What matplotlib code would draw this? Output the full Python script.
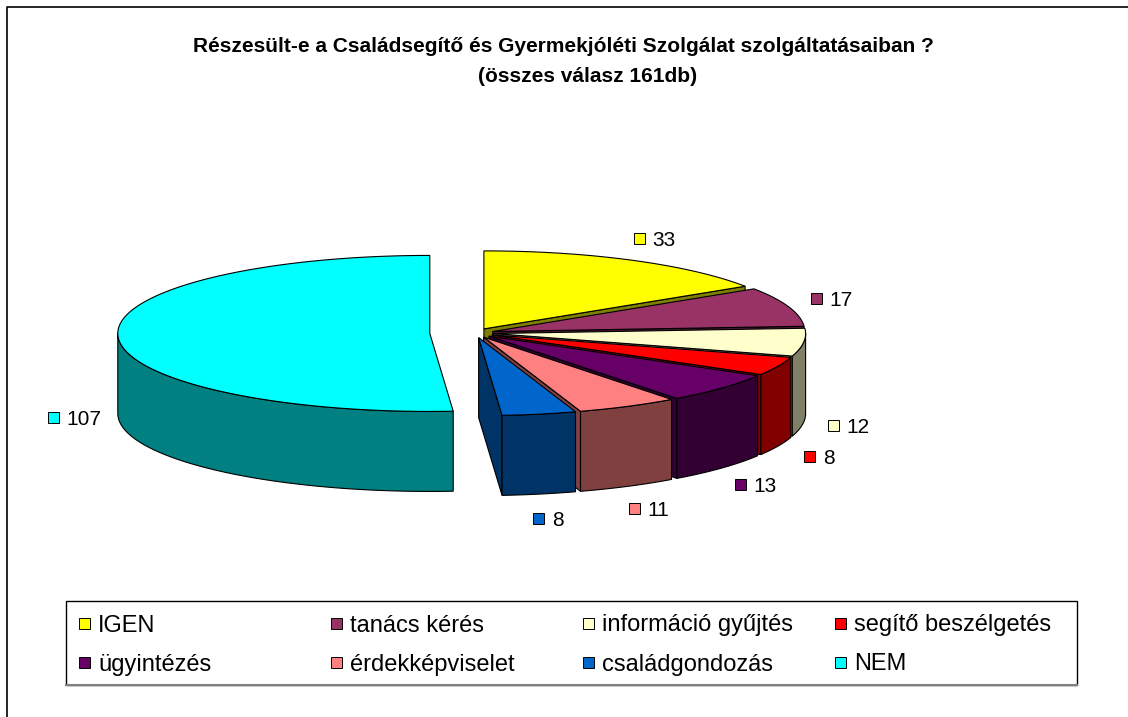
import numpy as np
import matplotlib
matplotlib.use("Agg")
import matplotlib.pyplot as plt
from matplotlib.colors import to_rgb
from matplotlib.patches import Polygon, Rectangle

plt.rcParams["font.family"] = ["Liberation Sans", "DejaVu Sans"]

# data
labels = ["IGEN", "tanács kérés", "információ gyűjtés", "segítő beszélgetés",
          "ügyintézés", "érdekképviselet", "családgondozás", "NEM"]
values = [33, 17, 12, 8, 13, 11, 8, 107]
title_lines = ["Részesült-e a Családsegítő és Gyermekjóléti Szolgálat szolgáltatásaiban ?",
               "(összes válasz 161db)"]

# style
colors = ["#FFFF00", "#993366", "#FFFFCC", "#FF0000",
          "#660066", "#FF8080", "#0066CC", "#00FFFF"]
explode = [0.06, 0.06, 0.06, 0.06, 0.06, 0.06, 0.06, 0.145]

CX, CY = 475, 333       # pie centre (pixels)
RX, RY = 312, 78        # ellipse radii
DEPTH = 80              # thickness of the pie
EDGE = dict(edgecolor="black", linewidth=0.8)


def shade(c):
    return tuple(v * 0.5 for v in to_rgb(c))


def rim(c, th):
    return (c[0] + RX * np.sin(th), c[1] - RY * np.cos(th))


def down(p):
    return (p[0], p[1] + DEPTH)


fig = plt.figure(figsize=(11.28, 7.17), dpi=100)
ax = fig.add_axes([0, 0, 1, 1])
ax.set_xlim(0, 1128)
ax.set_ylim(717, 0)
ax.axis("off")

# angles clockwise from 12 o'clock
fracs = np.array(values) / np.sum(values)
ends = np.cumsum(fracs) * 2 * np.pi
starts = ends - fracs * 2 * np.pi
mids = (starts + ends) / 2
centres = [(CX + e * RX * np.sin(m), CY - e * RY * np.cos(m)) for e, m in zip(explode, mids)]

# paint back to front
order = sorted(range(len(values)), key=lambda i: -np.cos(mids[i]))
for i in order:
    a0, a1, c = starts[i], ends[i], centres[i]
    top_col, side_col = colors[i], shade(colors[i])

    # cut faces
    for a, normal in ((a0, a0 - np.pi / 2), (a1, a1 + np.pi / 2)):
        if -np.cos(normal) > 1e-6:
            p = rim(c, a)
            ax.add_patch(Polygon([c, p, down(p), down(c)], closed=True,
                                 facecolor=side_col, **EDGE))

    # outer wall, front half only
    lo, hi = max(a0, np.pi / 2), min(a1, 3 * np.pi / 2)
    if lo < hi:
        ts = np.linspace(lo, hi, 80)
        upper = [rim(c, t) for t in ts]
        lower = [down(p) for p in upper[::-1]]
        ax.add_patch(Polygon(upper + lower, closed=True, facecolor=side_col, **EDGE))

    # top face
    ts = np.linspace(a0, a1, max(int(np.degrees(a1 - a0)) + 2, 3))
    ax.add_patch(Polygon([c] + [rim(c, t) for t in ts], closed=True,
                         facecolor=top_col, **EDGE))

# value labels with key squares
for i, v in enumerate(values):
    m, c = mids[i], centres[i]
    x, y = rim(c, m)
    if -np.cos(m) > 0:
        y += DEPTH
    x += 45 * np.sin(m)
    y -= 25 * np.cos(m)
    txt = str(v)
    gw = 16 + 10.5 * len(txt)
    mx = x - gw / 2 + 4
    ax.add_patch(Rectangle((mx - 5.5, y - 5.5), 11, 11, facecolor=colors[i],
                           edgecolor="black", linewidth=0.7))
    ax.text(mx + 13, y, txt, fontsize=15, ha="left", va="center_baseline")

# legend
ax.add_patch(Rectangle((66, 601), 1011, 84, facecolor="white",
                       edgecolor="black", linewidth=1))
ax.plot([66, 1077], [685, 685], color="#808080", linewidth=1.5)
for i, lab in enumerate(labels):
    row, col = divmod(i, 4)
    lx, ly = 84 + 252 * col, 623 + 39 * row
    ax.add_patch(Rectangle((lx - 5.5, ly - 5.5), 11, 11, facecolor=colors[i],
                           edgecolor="black", linewidth=0.7))
    ax.text(lx + 14, ly, lab, fontsize=17, ha="left", va="center_baseline")

# title
ax.text(563, 47, title_lines[0], fontsize=15, fontweight="bold", ha="center", va="center")
ax.text(588, 76, title_lines[1], fontsize=15, fontweight="bold", ha="center", va="center")

# chart border
ax.plot([7, 7, 1128], [717, 7, 7], color="black", linewidth=1.2)

fig.savefig("out.png", dpi=100)
